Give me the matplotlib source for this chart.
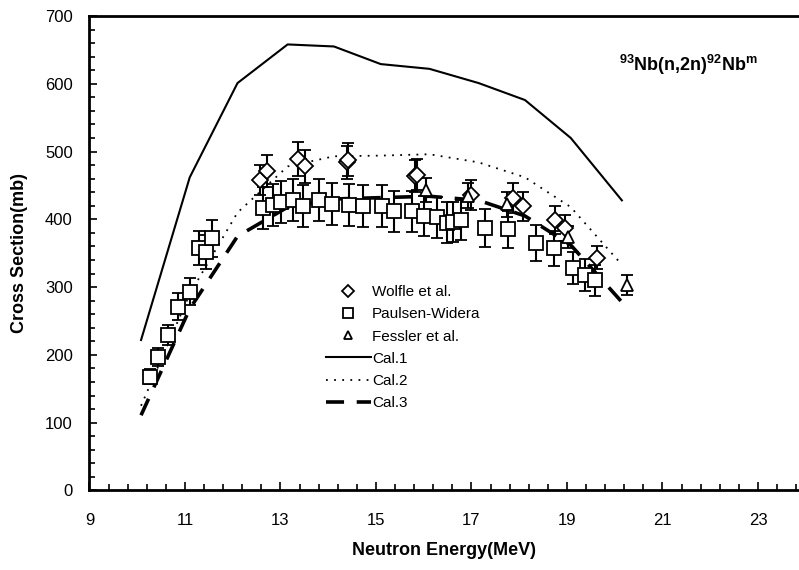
import matplotlib
matplotlib.use("Agg")
import matplotlib.pyplot as plt
from matplotlib.lines import Line2D
from matplotlib.ticker import MultipleLocator

plt.rcParams['font.family'] = ['Liberation Sans', 'DejaVu Sans']
plt.rcParams['mathtext.fontset'] = 'custom'
plt.rcParams['mathtext.bf'] = 'Liberation Sans:bold'
plt.rcParams['mathtext.rm'] = 'Liberation Sans'

# Wolfle et al. (diamonds)
wolfle_e = [12.57, 12.71, 13.36, 13.51, 14.39, 14.42, 15.82, 15.85, 17.0, 17.87, 18.08, 18.75, 18.96, 19.62]
wolfle_xs = [458, 471, 489, 478, 484, 488, 464, 466, 436, 431, 419, 399, 387, 343]
wolfle_err = [22, 24, 25, 24, 24, 24, 23, 23, 22, 22, 21, 20, 19, 17]

# Paulsen-Widera (squares)
paulsen_e = [10.27, 10.44, 10.65, 10.86, 11.10, 11.30, 11.45, 11.56,
             12.64, 12.85, 13.02, 13.27, 13.48, 13.81, 14.07, 14.43, 14.73, 15.12,
             15.38, 15.75, 16.01, 16.27, 16.48, 16.62, 16.79, 17.28, 17.77,
             18.35, 18.72, 19.13, 19.38, 19.59]
paulsen_xs = [168, 197, 229, 271, 293, 358, 352, 372,
              416, 421, 426, 429, 420, 428, 422, 421, 420, 420,
              412, 412, 405, 403, 395, 396, 399, 387, 385,
              365, 357, 328, 318, 310]
paulsen_err = [11, 13, 15, 20, 20, 25, 25, 27,
               31, 31, 31, 31, 31, 31, 31, 31, 31, 31,
               30, 30, 30, 30, 30, 30, 30, 28, 28,
               26, 26, 24, 23, 23]

# Fessler et al. (triangles)
fessler_e = [16.05, 16.93, 17.74, 19.03, 20.25]
fessler_xs = [443, 435, 422, 374, 303]
fessler_err = [18, 18, 18, 16, 15]

# calculations
cal_e = [10.08, 11.1, 12.1, 13.15, 14.12, 15.1, 16.12, 17.15, 18.12, 19.08, 20.15]
cal1 = [222, 462, 601, 658, 655, 629, 622, 601, 576, 520, 428]
cal2 = [125, 290, 410, 478, 493, 494, 496, 484, 462, 418, 333]
cal3 = [111, 268, 375, 418, 430, 432, 434, 428, 405, 362, 278]

fig = plt.figure(figsize=(7.99, 5.70), dpi=100)
ax = fig.add_axes([0.112, 0.1395, 0.888, 0.8325])

eb_kw = dict(mfc='white', mec='black', ecolor='black', capsize=4,
             elinewidth=1.5, capthick=1.5, mew=1.3, linestyle='none')
ax.errorbar(wolfle_e, wolfle_xs, yerr=wolfle_err, fmt='D', ms=8, **eb_kw)
ax.errorbar(paulsen_e, paulsen_xs, yerr=paulsen_err, fmt='s', ms=9.5, **eb_kw)
ax.errorbar(fessler_e, fessler_xs, yerr=fessler_err, fmt='^', ms=8, **eb_kw)

ax.plot(cal_e, cal1, color='black', lw=1.5)
ax.plot(cal_e, cal2, color='black', lw=1.3, linestyle=(0, (1, 3.5)))
ax.plot(cal_e, cal3, color='black', lw=2.6, linestyle=(0, (5, 3.5)))

ax.set_xlim(9, 23.86)
ax.set_ylim(0, 700)
ax.set_xticks(range(9, 24, 2))
ax.xaxis.set_minor_locator(MultipleLocator(0.4, offset=0.2))
ax.yaxis.set_major_locator(MultipleLocator(100))
ax.yaxis.set_minor_locator(MultipleLocator(20))
ax.tick_params(which='both', direction='in', labelsize=12, width=1.2)
ax.tick_params(which='major', length=6)
ax.tick_params(which='minor', length=4)
ax.tick_params(axis='x', pad=16)
ax.tick_params(axis='y', pad=12)

for s in ['left', 'bottom', 'top']:
    ax.spines[s].set_linewidth(2)
ax.spines['right'].set_visible(False)

ax.set_xlabel('Neutron Energy(MeV)', fontsize=13, fontweight='bold', labelpad=10)
ax.set_ylabel('Cross Section(mb)', fontsize=13, fontweight='bold', labelpad=12)

ax.text(23.0, 628, r'$^{\mathbf{93}}$Nb(n,2n)$^{\mathbf{92}}$Nb$^{\mathbf{m}}$',
        fontsize=13, fontweight='bold', ha='right', va='center')

# legend: markers only for data, then the calculation lines
mk = dict(color='black', mfc='white', mew=1.3, linestyle='none')
handles = [Line2D([], [], marker='D', ms=6, **mk),
           Line2D([], [], marker='s', ms=7, **mk),
           Line2D([], [], marker='^', ms=6, **mk),
           Line2D([], [], color='black', lw=1.5),
           Line2D([], [], color='black', lw=1.3, linestyle=(0, (1, 3.5))),
           Line2D([], [], color='black', lw=2.6, linestyle=(0, (5, 3.5)))]
labels = ['Wolfle et al.', 'Paulsen-Widera', 'Fessler et al.', 'Cal.1', 'Cal.2', 'Cal.3']
ax.legend(handles, labels, loc='upper left', bbox_to_anchor=(0.322, 0.449), frameon=False,
          fontsize=11, handlelength=2.95, handletextpad=0.08,
          labelspacing=0.54, borderpad=0)

fig.savefig('out.png', dpi=100, facecolor='white')
